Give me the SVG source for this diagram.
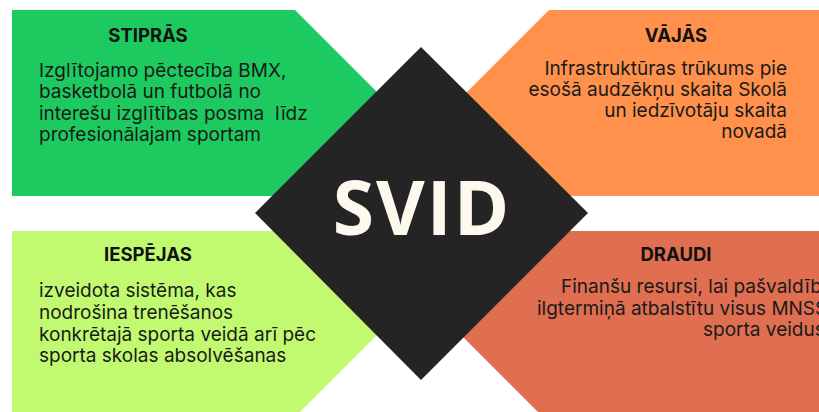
<svg xmlns="http://www.w3.org/2000/svg" width="819" height="412" viewBox="0 0 819 412">
<style>
.t{font-family:Inter,"Open Sans","Liberation Sans",sans-serif;font-weight:700;font-size:18.5px;fill:#111;text-anchor:middle}
.b{font-family:Inter,"Open Sans","Liberation Sans",sans-serif;font-size:19px;fill:#1a1a1a}
.r{text-anchor:end}
.big{font-family:"Open Sans","Liberation Sans",sans-serif;font-weight:700;font-size:75px;letter-spacing:2px;fill:#fdf9ee;text-anchor:middle}
</style>
<rect width="819" height="412" fill="#ffffff"/>
<g id="strengths">
<polygon points="12,10 295,10 388,103 295,196 12,196" fill="#1dca5f"/>
<text class="t" x="148" y="42">STIPRĀS</text>
<text class="b" x="39" y="77">Izglītojamo pēctecība BMX,</text>
<text class="b" x="39" y="98">basketbolā un futbolā no</text>
<text class="b" x="39" y="120" style="white-space:pre" xml:space="preserve">interešu izglītības posma  līdz</text>
<text class="b" x="39" y="141">profesionālajam sportam</text>
</g>
<g id="weaknesses">
<polygon points="549,10 830,10 830,196 549,196 456,103" fill="#ff914d"/>
<text class="t" x="676" y="42">VĀJĀS</text>
<text class="b r" x="787" y="75">Infrastruktūras trūkums pie</text>
<text class="b r" x="787" y="96">esošā audzēkņu skaita Skolā</text>
<text class="b r" x="787" y="117">un iedzīvotāju skaita</text>
<text class="b r" x="787" y="138">novadā</text>
</g>
<g id="opportunities">
<polygon points="12,231 275,231 378,334 275,437 12,437" fill="#c1fa70"/>
<text class="t" x="148" y="261">IESPĒJAS</text>
<text class="b" x="39" y="297">izveidota sistēma, kas</text>
<text class="b" x="39" y="319">nodrošina trenēšanos</text>
<text class="b" x="39" y="341">konkrētajā sporta veidā arī pēc</text>
<text class="b" x="39" y="362">sporta skolas absolvēšanas</text>
</g>
<g id="threats">
<polygon points="559,231 830,231 830,437 563,437 460,334" fill="#df6f50"/>
<text class="t" x="676" y="261">DRAUDI</text>
<text class="b" x="561" y="293">Finanšu resursi, lai pašvaldība</text>
<text class="b" x="537" y="315">ilgtermiņā atbalstītu visus MNSS</text>
<text class="b" x="703" y="336">sporta veidus</text>
</g>
<g id="svid">
<polygon points="421,47 588,213 421,380 255,213" fill="#242424"/>
<text class="big" x="422" y="235">SVID</text>
</g>
<g id="connectors"/>
</svg>
